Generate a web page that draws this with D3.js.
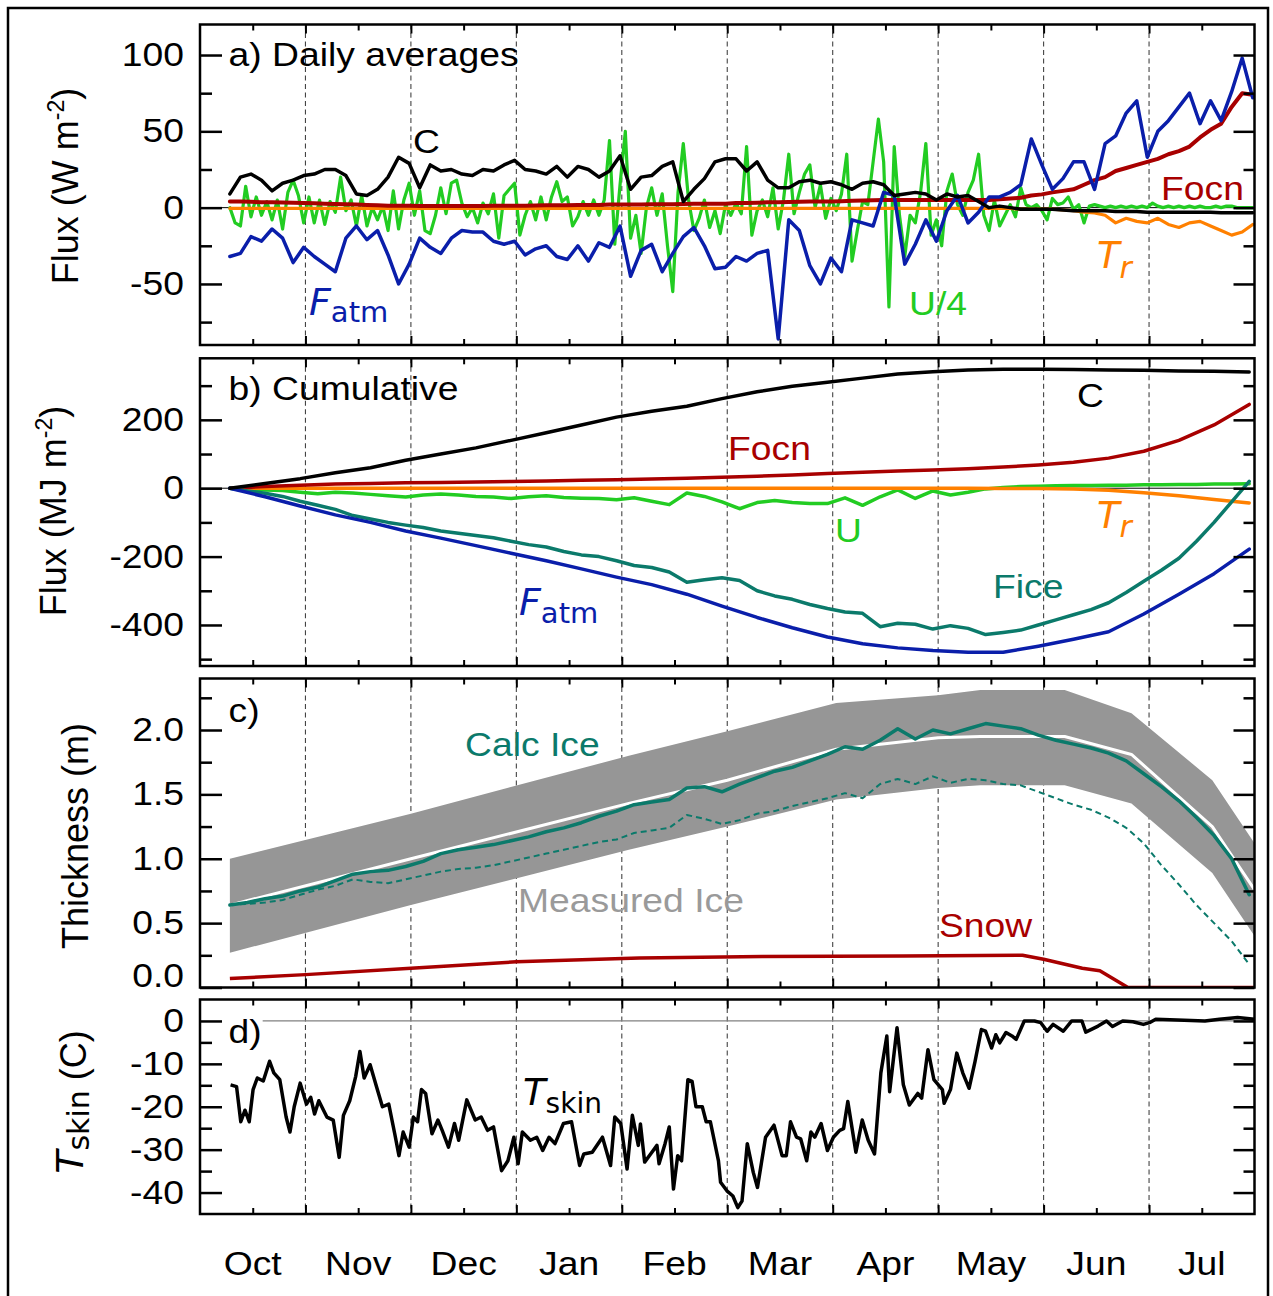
<!DOCTYPE html>
<html><head><meta charset="utf-8">
<script src="https://cdn.jsdelivr.net/npm/d3@7"></script>
<style>body{margin:0;background:#fff}svg{display:block}</style>
</head><body>
<svg id="chart" width="1273" height="1296"></svg>
<script>
// ---------------- DATA ----------------
// x = days since 1 Oct (30-day months on the axis)
const monthLabels = ["Oct","Nov","Dec","Jan","Feb","Mar","Apr","May","Jun","Jul"];
const monthStarts = [30,60,90,120,150,180,210,240,270];
const monthMids = [15,45,75,105,135,165,195,225,255,285];
const DAY0 = 8.5;

// panel a : daily averages (W m-2), sampled every 3 days
const STEP_A = 3;
const cDaily = [9,20,22,18,11,16,18,21,22,25, 25,21,9,8,12,20,33,29,13,28, 24,25,22,21,25,24,28,31,25,24,
  22,27,20,27,25,20,24,34,12,20, 21,27,30,4,12,19,30,32,32,24, 30,18,13,13,17,18,16,17,15,12,
  16,17,15,8,9,10,9,5,9,7, 8,4,0,1,0,-1,-1,-1,-1,-1.5, -2,-2,-2,-2,-2.5,-2.5,-2.5,-3,-3,-3,
  -3,-3,-3,-3,-3.3,-3.3,-3.3,-3.3];
const fatmDaily = [-32,-30,-19,-22,-14,-20,-36,-26,-32,-37, -42,-20,-12,-21,-15,-31,-50,-37,-20,-26,
  -30,-20,-15,-16,-16,-22,-24,-22,-31,-27, -25,-32,-34,-25,-35,-23,-26,-12,-45,-28,
  -24,-42,-30,-19,-13,-25,-40,-39,-32,-35, -30,-28,-86,-8,-15,-38,-50,-33,-42,-8,
  -10,-12,10,8,-37,-24,-8,-22,-2,8, -10,-3,7,7,10,15,45,28,12,19, 30,30,12,42,47,62,70,33,50,57,
  66,75,55,70,57,76,98,72];
const focnDaily = [4,4,3.8,3.6,3.5,3.4,3.2,3,2.8,2.6, 2.4,2.2,2,1.8,1.5,1.3,1.2,1.2,1.1,1,
  1,1,1,1,1,1.2,1.2,1.3,1.3,1.4, 1.5,1.5,1.6,1.8,1.8,1.8,2,2,2,2, 2.2,2.2,2.3,2.4,2.5,2.5,2.6,2.6,3,3,
  3.2,3.5,3.6,3.7,3.8,4,4,4,4.2,4.5, 4.6,4.8,5,5,5,5,5,5,5,5, 5,5,5,5.5,6,6.5,8,8.7,10,11,
  12,15,18,20,24,26,28,30,32,35, 37,40,46,51,55,66,75,74];
const trDaily = [-0.5,-0.5,-0.5,-0.5,-0.5,-0.5,-0.5,-0.5,-0.5,-0.5, -0.5,-0.5,-0.5,-0.5,-0.5,-0.5,-0.5,-0.5,-0.5,-0.5,
  -0.5,-0.5,-0.5,-0.5,-0.5,-0.5,-0.5,-0.5,-0.5,-0.5, -0.5,-0.5,-0.5,-0.5,-0.5,-0.5,-0.5,-0.5,-0.5,-0.5,
  -0.5,-0.5,-0.5,-0.5,-0.5,-0.5,-0.5,-0.5,-0.5,-0.5, -0.5,-0.5,-0.5,-0.5,-0.5,-0.5,-0.5,-0.5,-0.5,-0.5,
  -0.5,-0.5,-0.5,-0.5,-0.5,-0.5,-0.5,-0.5,-0.5,-0.5, -0.5,-0.5,
  -0.5,-0.5,-0.5,-1,-1,-1,-1,-1.5,-2,-3, -3.5,-5,-10,-7,-9,-10,-7,-11,-13,-10, -9,-12,-15,-18,-16,-11];
// U/4 sampled every 1.5 days
const STEP_U = 1.5;
const u4Daily = [0,-10,-12,14,-6,7,-5,4,-8,5, -14,10,18,8,-10,7,-10,5,-11,4, -3,20,-2,5,-12,8,-12,0,-8,1,
  -15,11,-14,5,16,-5,11,-15,-17,-5, 13,-4,16,18,3,-6,
  0,-10,3,-4,9,-20,8,12,16,-18, -5,4,-8,7,-8,7,17,4,7,-12, -6,4,-5,5,-5,5,44,-24,15,50,
  -20,-5,-30,0,13,-5,9,-25,-55,10, 42,5,-15,-7,5,-13,-2,-17,2,-5,
  3,-4,40,-18,-2,5,-6,13,-14,5, 35,-4,10,22,28,0,15,-7,6,-2, 9,35,-35,-15,4,2,30,58,30,-65,
  40,-5,-32,-5,-10,10,42,-18,-8,-25, 11,22,2,-5,10,18,35,-5,-15,
  5,-12,-5,2,-6,13,2,0,2,-2, -8,6,2,3,7,-1,2,-10,1,2, 1,0,1,0,1,0,1,0,1,0,
  3,1,0,1,0,1,0,1,0,1, 0,0,1,0,1,1,0,0,0,0];

// panel b : cumulative (MJ m-2)
const STEP_B = 10;
const cCum    = [0,14,28,45,60,82,100,118,140,162,185,208,225,240,262,282,298,310,322,334,341,346,348,348,347,346,345,343,342,340];
const focnCum = [0,5,9,12,14,16,17,18,19.5,21,23,25,27,29,32,35,39,43,47,50,53,57,62,68,76,88,108,140,185,245];
const trCum   = [0,0,0,0,0,0,0,0,0,0,0,0,0,0,0,0,0,0,0,0,0,0,-0.5,-1,-2,-6,-13,-22,-33,-43];
const fatmCum = [0,-25,-52,-78,-100,-125,-146,-168,-190,-212,-236,-260,-282,-310,-345,-378,-408,-435,-455,-467,-475,-480,-480,-462,-442,-420,-368,-310,-250,-178];
const STEP_BN = 5;
const uCum = [0,-3,-5,-7,-12,-16,-12,-14,-18,-22, -26,-20,-17,-20,-24,-26,-30,-25,-22,-27,
  -29,-30,-34,-28,-38,-48,-14,-24,-40,-60, -42,-36,-42,-45,-45,-28,-50,-25,-5,-30,
  -8,-20,-12,-2,2,5,6,7,8,8, 9,9,10,10,11,11,12,12,13];
const ficeCum = [0,-8,-15,-24,-38,-50,-62,-80,-90,-100, -108,-115,-125,-132,-138,-145,-155,-165,-172,-185,
  -195,-200,-212,-226,-232,-245,-275,-268,-262,-270, -300,-315,-325,-340,-352,-362,-366,-405,-395,-398,
  -412,-402,-410,-428,-422,-415,-400,-385,-370,-355, -335,-305,-272,-240,-205,-155,-100,-40,20];

// panel c : thickness (m)
const measDays  = [8.5,60,122,150,181,210,222,246,265,288,300];
const measUpper = [1.00,1.35,1.80,1.99,2.21,2.27,2.31,2.31,2.13,1.61,1.12];
const measLower = [0.27,0.64,1.07,1.25,1.46,1.55,1.57,1.57,1.43,0.89,0.40];
const measMid   = [0.64,1.00,1.43,1.61,1.85,1.94,1.95,1.95,1.81,1.25,0.76];
const STEP_C = 5;
const calcIce = [0.64,0.66,0.69,0.71,0.75,0.78,0.83,0.88,0.90,0.91, 0.94,0.98,1.04,1.07,1.09,1.11,1.14,1.17,1.21,1.24,
  1.28,1.33,1.37,1.42,1.44,1.46,1.55,1.56,1.52,1.58, 1.63,1.68,1.71,1.76,1.81,1.87,1.85,1.92,2.01,1.93,
  2.00,1.97,2.01,2.05,2.03,2.01,1.96,1.92,1.89,1.86, 1.82,1.76,1.66,1.56,1.45,1.32,1.18,1.00,0.72];
const calcIceAlt = [0.64,0.65,0.66,0.68,0.72,0.76,0.79,0.84,0.82,0.81, 0.84,0.87,0.90,0.92,0.93,0.95,0.98,1.01,1.04,1.07,
  1.10,1.13,1.15,1.20,1.22,1.24,1.34,1.31,1.27,1.30, 1.35,1.37,1.41,1.44,1.47,1.51,1.47,1.58,1.62,1.58,
  1.64,1.59,1.62,1.61,1.58,1.57,1.52,1.47,1.42,1.38, 1.32,1.24,1.12,0.95,0.80,0.64,0.50,0.36,0.18];
const snowDays = [8.5,30,60,90,125,160,200,234,240,251,256,264,300];
const snowVals = [0.07,0.10,0.15,0.20,0.23,0.24,0.245,0.25,0.22,0.15,0.13,0.0,0.0];

// panel d : skin temperature (C), [day, value]
const tskinPoints = [[8.7,-14.9],[10.4,-15.3],[11.6,-23.5],[12.8,-20.8],[14,-23.5],[15.1,-16],[16.3,-13.3],[18,-14],[19.8,-9.4],[21,-12.1],
 [22.7,-13.7],[24.5,-22.4],[25.6,-25.9],[26.8,-20],[28.5,-14.5],[30.3,-19.4],[31.5,-17.8],[32.6,-21.7],[33.8,-18.6],[36.1,-22.4],
 [37.9,-23.1],[39.6,-31.8],[40.8,-22],[42.6,-18.6],[44.3,-12.9],[45.5,-7.1],[46.7,-13.3],[48.4,-10.2],[50.2,-15.3],[51.9,-20],
 [53.7,-19.4],[55.4,-26.3],[56.6,-31.4],[57.8,-25.9],[59.5,-29.4],[60.7,-22.4],[61.9,-23.5],[63,-16],[64.2,-16.9],[66,-26.3],
 [67.7,-23.1],[68.9,-25.5],[70.7,-29.4],[72.4,-23.9],[73.6,-27.8],[75.9,-18.4],[78.3,-23.1],[80,-22.4],[81.8,-25.5],[83.5,-24.7],
 [85.8,-34.9],[87.6,-32.6],[89.3,-27.1],[90.5,-33.3],[91.7,-25.9],[94,-27.8],[95.8,-27.1],[97.5,-30.2],[99.3,-27.1],[101,-28.6],
 [103.4,-23.9],[105.7,-23.5],[108,-33.7],[109.2,-31],[111.6,-30.6],[114.5,-27.1],[116.8,-33.7],[118,-22.4],[119.7,-23.9],[121.5,-34.5],
 [123,-22],[124.7,-29],[125.3,-24],[126.5,-32.9],[128.2,-31],[130,-29],[130.6,-33.3],[132.3,-28.6],[133.5,-24.7],[134.7,-39.2],
 [135.9,-31.4],[137,-32.6],[138.8,-13.7],[140,-14.1],[141.1,-20],[142.9,-20],[144,-23.5],[145.2,-23.5],[147.5,-32.6],[148.1,-37.6],
 [149.9,-39.6],[151.6,-40.8],[153,-43.5],[154.2,-42],[155.7,-28.6],[157.4,-35.3],[158.6,-38.8],[160.9,-27.1],[163.3,-24.3],[165.6,-31.4],
 [166.8,-31.4],[168,-23.5],[169.7,-27.1],[170.9,-27.5],[172.6,-32.6],[173.8,-25.9],[174.9,-27.1],[176.7,-23.9],[178.5,-30.2],[180.2,-27.1],
 [182,-25.5],[183.1,-25.1],[184.3,-18.8],[186.6,-30.6],[188.4,-23.1],[190.1,-27.8],[191.9,-31],[193.7,-12.1],[195.4,-3.5],[196.2,-16.5],
 [198.3,-1.6],[200.1,-14.9],[201.8,-19.6],[204.2,-16.9],[205.3,-18],[207.1,-6.7],[208.8,-13.7],[211.2,-16],[211.7,-19.2],[213.5,-16],
 [215.3,-7.5],[217,-12.1],[218.8,-15.7],[220.5,-9.4],[222.3,-2],[223.5,-2.4],[225.2,-6.3],[226.4,-3.2],[227.5,-5.1],[229.3,-2.7],
 [231,-3.5],[232.2,-4.3],[234.5,0],[237.4,0],[239.2,-0.4],[241,-2.4],[242.7,-0.8],[245.6,-2.4],[248,0],[250.9,0],
 [252,-2.6],[255.5,-1.2],[257.9,0],[259.6,-1.3],[262.5,0],[265.4,-0.2],[268.4,-0.8],[270.1,-0.4],[271.9,0.4],[278,0.2],
 [285.9,0],[290,0.4],[295.2,0.8],[300,0.4]];

// ---------------- STYLE ----------------
const COL = {black:'#000', blue:'#0a1eaa', green:'#22cc22', red:'#a80000', orange:'#ff8000', teal:'#0b7a6b', gray:'#969696', lgray:'#9a9a9a'};
const SX = 1.13;
const FONT = "'Liberation Sans', Arial, sans-serif";
const DJ = "'DejaVu Sans', sans-serif";
const X0 = 200, X1 = 1254.5;
const x = d3.scaleLinear().domain([0, 300]).range([X0, X1]);

const svg = d3.select('#chart');
svg.append('rect').attr('width',1273).attr('height',1296).attr('fill','#fff');
svg.append('rect').attr('x',8).attr('y',8).attr('width',1260).attr('height',1310)
  .attr('fill','none').attr('stroke','#000').attr('stroke-width',2.5);

const panels = {
  a:{top:24.5, bottom:345, dom:[-90,120], major:[-50,0,50,100], minor:[-75,-25,25,75], fmt:d=>String(d)},
  b:{top:358.3, bottom:666, dom:[-520,380], major:[-400,-200,0,200], minor:[-500,-300,-100,100,300], fmt:d=>String(d)},
  c:{top:678.5, bottom:987.5, dom:[0,2.4], major:[0,0.5,1,1.5,2], minor:[0.25,0.75,1.25,1.75,2.25], fmt:d=>d.toFixed(1)},
  d:{top:999.5, bottom:1214, dom:[-45,5], major:[-40,-30,-20,-10,0], minor:[-35,-25,-15,-5], fmt:d=>String(d)}
};
const defs = svg.append('defs');
Object.entries(panels).forEach(([k,p])=>{
  p.y = d3.scaleLinear().domain(p.dom).range([p.bottom, p.top]);
  defs.append('clipPath').attr('id','clip'+k).append('rect')
    .attr('x',X0).attr('y',p.top).attr('width',X1-X0).attr('height',p.bottom-p.top);
  p.g = svg.append('g');
  p.g.selectAll('line.grid').data(monthStarts).enter().append('line')
    .attr('x1',d=>x(d)).attr('x2',d=>x(d)).attr('y1',p.top).attr('y2',p.bottom)
    .attr('stroke','#444').attr('stroke-width',1.1).attr('stroke-dasharray','5,3.5');
  p.s = p.g.append('g').attr('clip-path',`url(#clip${k})`);
});

function stepLine(p, vals, day0, step, color, w, dash){
  const line = d3.line().x((v,i)=>x(day0+i*step)).y(v=>p.y(v));
  const path = p.s.append('path').datum(vals).attr('d',line).attr('fill','none')
    .attr('stroke',color).attr('stroke-width',w).attr('stroke-linejoin','round').attr('stroke-linecap','round');
  if(dash) path.attr('stroke-dasharray',dash).attr('stroke-linecap','butt');
  return path;
}
function xyLine(p, days, vals, color, w, dash){
  const line = d3.line().x((v,i)=>x(days[i])).y(v=>p.y(v));
  const path = p.s.append('path').datum(vals).attr('d',line).attr('fill','none')
    .attr('stroke',color).attr('stroke-width',w).attr('stroke-linejoin','round');
  if(dash) path.attr('stroke-dasharray',dash);
  return path;
}
function zeroLine(p, color, w, xs){
  p.s.append('line').attr('x1',xs||X0).attr('x2',X1).attr('y1',p.y(0)).attr('y2',p.y(0))
   .attr('stroke',color).attr('stroke-width',w);
}
function stext(x0, y0, str, color, anchor, size){
  return svg.append('text').attr('transform',`translate(${x0},${y0}) scale(${SX},1)`)
    .attr('text-anchor',anchor||'start').attr('font-family',FONT).attr('font-size',(size||33))
    .attr('fill',color||'#000').text(str);
}
function subLabel(x0, y0, main, sub, color, mainSize, subSize, subDy, subItalic){
  const t = svg.append('text').attr('x',x0).attr('y',y0).attr('fill',color).attr('font-family',DJ);
  t.append('tspan').attr('font-style','italic').attr('font-size',mainSize).text(main);
  t.append('tspan').attr('dy',subDy).attr('font-size',subSize).attr('font-style',subItalic?'italic':'normal').text(sub);
  return t;
}

// ---------------- PANEL A ----------------
const pa = panels.a;
zeroLine(pa,'#000',1);
stepLine(pa, u4Daily, DAY0, STEP_U, COL.green, 3.2);
stepLine(pa, trDaily, DAY0, STEP_A, COL.orange, 3.2);
stepLine(pa, focnDaily, DAY0, STEP_A, COL.red, 4);
stepLine(pa, fatmDaily, DAY0, STEP_A, COL.blue, 3.5);
stepLine(pa, cDaily, DAY0, STEP_A, COL.black, 3.5);

// ---------------- PANEL B ----------------
const pb = panels.b;
zeroLine(pb,'#000',1);
stepLine(pb, uCum, DAY0, STEP_BN, COL.green, 3.5);
stepLine(pb, trCum, DAY0, STEP_B, COL.orange, 3.5);
stepLine(pb, focnCum, DAY0, STEP_B, COL.red, 3.5);
stepLine(pb, ficeCum, DAY0, STEP_BN, COL.teal, 3.5);
stepLine(pb, fatmCum, DAY0, STEP_B, COL.blue, 3.5);
stepLine(pb, cCum, DAY0, STEP_B, COL.black, 3.5);

// ---------------- PANEL C ----------------
const pc = panels.c;
const band = d3.area().x((d,i)=>x(measDays[i])).y0((d,i)=>pc.y(measLower[i])).y1((d,i)=>pc.y(measUpper[i]));
pc.s.append('path').datum(measDays).attr('d',band).attr('fill',COL.gray);
xyLine(pc, measDays, measMid, '#fff', 3);
stepLine(pc, calcIceAlt, DAY0, STEP_C, COL.teal, 2, '6,4');
stepLine(pc, calcIce, DAY0, STEP_C, COL.teal, 3.5);
xyLine(pc, snowDays, snowVals, COL.red, 3.5);

// ---------------- PANEL D ----------------
const pd = panels.d;
const dLab = stext(228.5, 1043, 'd)');
const lb = dLab.node().getBoundingClientRect();
zeroLine(pd,'#808080',1.2, lb.right+1);
const tLine = d3.line().x(d=>x(d[0])).y(d=>pd.y(d[1]));
pd.s.append('path').datum(tskinPoints).attr('d',tLine).attr('fill','none')
  .attr('stroke','#000').attr('stroke-width',3.5).attr('stroke-linejoin','round');

// ---------------- AXES ----------------
Object.entries(panels).forEach(([k,p])=>{
  const styleTicks = (g,w)=>{ g.select('.domain').remove(); g.selectAll('.tick line').attr('stroke','#000').attr('stroke-width',w); };
  const gl = svg.append('g').attr('transform',`translate(${X0},0)`)
    .call(d3.axisLeft(p.y).tickValues(p.major).tickFormat(p.fmt).tickSizeInner(-22).tickSizeOuter(0).tickPadding(16));
  styleTicks(gl,2.5);
  gl.selectAll('.tick text').attr('font-size',33).attr('font-family',FONT).attr('fill','#000')
    .attr('x',-16/SX).attr('transform',`scale(${SX},1)`);
  if(k==='c') gl.selectAll('.tick text').filter(d=>d===0).attr('y',-12);
  const glm = svg.append('g').attr('transform',`translate(${X0},0)`)
    .call(d3.axisLeft(p.y).tickValues(p.minor).tickFormat('').tickSizeInner(-12).tickSizeOuter(0));
  styleTicks(glm,2.5);
  const gr = svg.append('g').attr('transform',`translate(${X1},0)`)
    .call(d3.axisRight(p.y).tickValues(p.major).tickFormat('').tickSizeInner(-21).tickSizeOuter(0));
  styleTicks(gr,2.5);
  const grm = svg.append('g').attr('transform',`translate(${X1},0)`)
    .call(d3.axisRight(p.y).tickValues(p.minor).tickFormat('').tickSizeInner(-11).tickSizeOuter(0));
  styleTicks(grm,2.5);
  [['top',d3.axisTop],['bottom',d3.axisBottom]].forEach(([side,ax])=>{
    const yy = side==='top'?p.top:p.bottom;
    const g1 = svg.append('g').attr('transform',`translate(0,${yy})`)
      .call(ax(x).tickValues(monthStarts).tickFormat('').tickSizeInner(-9).tickSizeOuter(0));
    styleTicks(g1,2);
    const g2 = svg.append('g').attr('transform',`translate(0,${yy})`)
      .call(ax(x).tickValues(monthMids).tickFormat('').tickSizeInner(-6).tickSizeOuter(0));
    styleTicks(g2,2);
  });
  svg.append('rect').attr('x',X0).attr('y',p.top).attr('width',X1-X0).attr('height',p.bottom-p.top)
    .attr('fill','none').attr('stroke','#000').attr('stroke-width',2.5);
});

// month labels
monthLabels.forEach((m,i)=> stext(x(monthMids[i]), 1275, m, '#000', 'middle'));

// ---------------- TEXT LABELS ----------------
stext(228.5, 66, 'a) Daily averages');
stext(228.5, 400, 'b) Cumulative');
stext(228.5, 722, 'c)');

stext(413, 153, 'C');
stext(1161, 200, 'Focn', COL.red);
stext(909, 315, 'U/4', COL.green);
subLabel(309, 315, 'F', 'atm', COL.blue, 38, 29, 7);
subLabel(1097, 268, 'T', 'r', COL.orange, 37, 30, 10, true);

stext(1077, 407, 'C');
stext(728, 460, 'Focn', COL.red);
stext(835, 542, 'U', COL.green);
subLabel(1097, 528, 'T', 'r', COL.orange, 37, 30, 9, true);
stext(993, 598, 'Fice', COL.teal);
subLabel(519, 615, 'F', 'atm', COL.blue, 38, 29, 8);

stext(465, 756, 'Calc Ice', COL.teal);
stext(518, 912, 'Measured Ice', COL.lgray);
stext(939, 937, 'Snow', COL.red);

subLabel(523, 1105, 'T', 'skin', '#000', 37, 28, 8);

// y-axis titles
function yTitle(cx, cy, build){
  const t = svg.append('text').attr('transform',`translate(${cx},${cy}) rotate(-90)`)
    .attr('text-anchor','middle').attr('font-family',FONT).attr('font-size',36).attr('fill','#000');
  build(t);
}
yTitle(78, 186, t=>{ t.append('tspan').text('Flux (W m'); t.append('tspan').attr('dy',-14).attr('font-size',23).text('-2'); t.append('tspan').attr('dy',14).text(')'); });
yTitle(66, 511, t=>{ t.append('tspan').text('Flux (MJ m'); t.append('tspan').attr('dy',-14).attr('font-size',23).text('-2'); t.append('tspan').attr('dy',14).text(')'); });
yTitle(88, 836, t=>{ t.append('tspan').text('Thickness (m)'); });
yTitle(83, 1102, t=>{
  t.append('tspan').attr('font-family',DJ).attr('font-style','italic').attr('font-size',38).text('T');
  t.append('tspan').attr('dy',6).attr('font-family',DJ).attr('font-size',30).text('skin');
  t.append('tspan').attr('dy',-3).text(' (C)');
});
</script></body></html>
